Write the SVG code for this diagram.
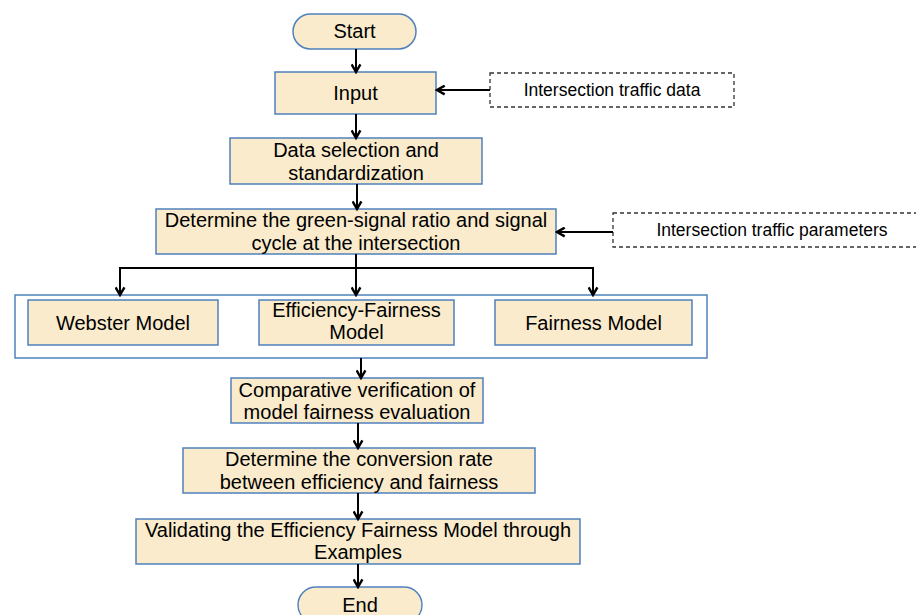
<svg xmlns="http://www.w3.org/2000/svg" width="916" height="615" viewBox="0 0 916 615">
<style>
.box{fill:#F9EBCB;stroke:#4F81BD;stroke-width:1.5}
.outer{fill:#FFFFFF;stroke:#4F81BD;stroke-width:1.5}
.dash{fill:#FFFFFF;stroke:#333333;stroke-width:1.3;stroke-dasharray:4,3}
.t{font-family:"Liberation Sans",Arial,sans-serif;font-size:20px;fill:#000000;text-anchor:middle}
.ts{font-family:"Liberation Sans",Arial,sans-serif;font-size:17.5px;fill:#000000;text-anchor:middle}
.c{fill:none;stroke:#000000;stroke-width:2}
</style>
<defs>
<marker id="ah" viewBox="0 0 10 10" refX="8.5" refY="5" markerWidth="5.5" markerHeight="5.5" orient="auto" markerUnits="strokeWidth">
<path d="M1.5,1 L8.5,5 L1.5,9" fill="none" stroke="#000000" stroke-width="2.2"/>
</marker>
</defs>
<g id="start"><rect class="box" x="293" y="14" width="123" height="35" rx="17.5"/><text class="t" x="354.5" y="38">Start</text></g>
<g id="input"><rect class="box" x="275" y="72" width="161" height="42"/><text class="t" x="355.5" y="100">Input</text></g>
<g id="traffic-data"><rect class="dash" x="490" y="73" width="244" height="34"/><text class="ts" x="612" y="96">Intersection traffic data</text></g>
<g id="data-selection"><rect class="box" x="230" y="138" width="252" height="46"/><text class="t" x="356" y="157">Data selection and</text><text class="t" x="356" y="180">standardization</text></g>
<g id="green-ratio"><rect class="box" x="156" y="209" width="400" height="45"/><text class="t" x="356" y="227">Determine the green-signal ratio and signal</text><text class="t" x="356" y="250">cycle at the intersection</text></g>
<g id="traffic-params"><rect class="dash" x="613" y="213" width="310" height="34"/><text class="ts" x="772" y="236">Intersection traffic parameters</text></g>
<g id="models"><rect class="outer" x="15" y="295" width="692" height="63"/></g>
<g id="webster"><rect class="box" x="28" y="300" width="190" height="45"/><text class="t" x="123" y="330">Webster Model</text></g>
<g id="efficiency-fairness"><rect class="box" x="259" y="300" width="195" height="45"/><text class="t" x="356.5" y="317">Efficiency-Fairness</text><text class="t" x="356.5" y="339">Model</text></g>
<g id="fairness"><rect class="box" x="495" y="300" width="197" height="45"/><text class="t" x="593.5" y="330">Fairness Model</text></g>
<g id="comparative"><rect class="box" x="231" y="378" width="252" height="45"/><text class="t" x="357" y="397">Comparative verification of</text><text class="t" x="357" y="419">model fairness evaluation</text></g>
<g id="conversion"><rect class="box" x="183" y="448" width="352" height="45"/><text class="t" x="359" y="466">Determine the conversion rate</text><text class="t" x="359" y="489">between efficiency and fairness</text></g>
<g id="validating"><rect class="box" x="136" y="519" width="444" height="45"/><text class="t" x="358" y="537">Validating the Efficiency Fairness Model through</text><text class="t" x="358" y="559">Examples</text></g>
<g id="end"><rect class="box" x="298" y="587" width="124" height="36" rx="18"/><text class="t" x="360" y="612">End</text></g>
<g id="connectors">
<line class="c" x1="356" y1="49" x2="356" y2="72" marker-end="url(#ah)"/>
<line class="c" x1="356" y1="114" x2="356" y2="138" marker-end="url(#ah)"/>
<line class="c" x1="490" y1="90" x2="437" y2="90" marker-end="url(#ah)"/>
<line class="c" x1="357" y1="184" x2="357" y2="209" marker-end="url(#ah)"/>
<line class="c" x1="613" y1="232" x2="557" y2="232" marker-end="url(#ah)"/>
<line class="c" x1="356" y1="254" x2="356" y2="268"/>
<line class="c" x1="120" y1="268" x2="593" y2="268"/>
<line class="c" x1="120" y1="267" x2="120" y2="295" marker-end="url(#ah)"/>
<line class="c" x1="356" y1="268" x2="356" y2="295" marker-end="url(#ah)"/>
<line class="c" x1="593" y1="267" x2="593" y2="295" marker-end="url(#ah)"/>
<line class="c" x1="361" y1="358" x2="361" y2="378" marker-end="url(#ah)"/>
<line class="c" x1="358" y1="423" x2="358" y2="448" marker-end="url(#ah)"/>
<line class="c" x1="358" y1="493" x2="358" y2="519" marker-end="url(#ah)"/>
<line class="c" x1="358" y1="564" x2="358" y2="587" marker-end="url(#ah)"/>
</g>
</svg>
